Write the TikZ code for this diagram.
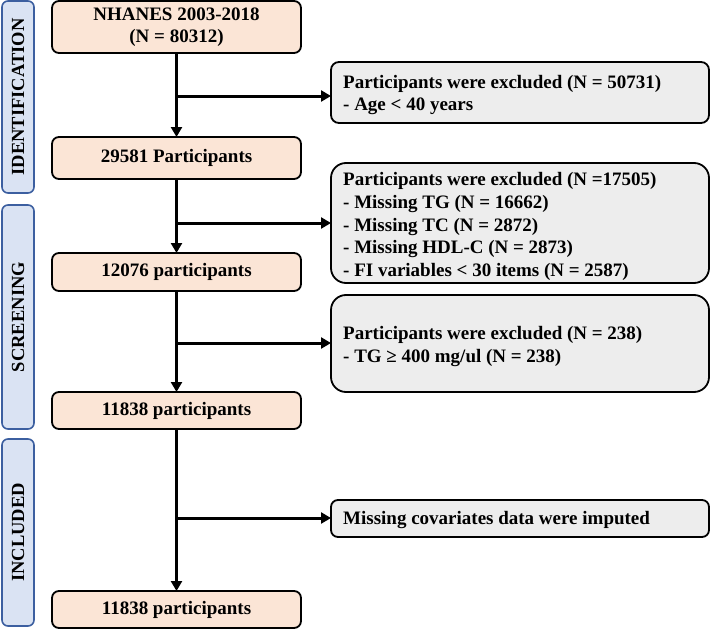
\documentclass[tikz,border=0pt]{standalone}
\usepackage{fontspec}
\setmainfont{Liberation Serif}
\usetikzlibrary{arrows.meta,calc}
\definecolor{peach}{HTML}{FBE5D6}
\definecolor{greybox}{HTML}{EDEDED}
\definecolor{bluefill}{HTML}{DAE3F3}
\definecolor{blueline}{HTML}{3C5FA0}
\begin{document}
\begin{tikzpicture}[x=1pt,y=-1pt,
  mainbox/.style={draw=black,line width=1.8pt,fill=peach,rounded corners=7pt,
    minimum width=249pt,anchor=north west,inner sep=0pt,outer sep=0pt,
    font=\fontsize{19}{22.5}\selectfont\bfseries,align=center},
  exbox/.style={draw=black,line width=1.8pt,fill=greybox,
    minimum width=378pt,anchor=north west,inner sep=0pt,outer sep=0pt},
  extext/.style={anchor=west,inner sep=0pt,align=left,
    font=\fontsize{19}{22.8}\selectfont\bfseries},
  sidebox/.style={draw=blueline,line width=1.6pt,fill=bluefill,rounded corners=6pt,
    minimum width=32pt,anchor=north west,inner sep=0pt,outer sep=0pt},
  sidelabel/.style={rotate=90,font=\fontsize{18.5}{22}\selectfont\bfseries},
  arr/.style={line width=3pt,-{Triangle[length=10pt,width=11pt]}}
]
\useasboundingbox (0,0) rectangle (710,629);

% side boxes
\node[sidebox,minimum height=192pt] (s1) at (2,1) {};
\node[sidelabel] (s1t) at (s1.center) {IDENTIFICATION};
\node[sidebox,minimum height=224pt] (s2) at (2,205) {};
\node[sidelabel] (s2t) at (s2.center) {SCREENING};
\node[sidebox,minimum height=187pt] (s3) at (2,439) {};
\node[sidelabel] (s3t) at (s3.center) {INCLUDED};

% main boxes
\node[mainbox,minimum height=52pt] (m1) at (52,1) {NHANES 2003-2018\\(N = 80312)};
\node[mainbox,minimum height=42pt] (m2) at (52,137) {29581 Participants};
\node[mainbox,minimum height=38pt] (m3) at (52,253) {12076 participants};
\node[mainbox,minimum height=37pt] (m4) at (52,392) {11838 participants};
\node[mainbox,minimum height=37pt] (m5) at (52,591) {11838 participants};

% exclusion boxes
\node[exbox,rounded corners=8pt,minimum height=61pt] (e1) at (331,62) {};
\node[extext] (e1t) at ($(e1.west)+(12,2.5)$)
  {Participants were excluded (N = 50731)\\- Age < 40 years};
\node[exbox,rounded corners=15pt,minimum height=120pt] (e2) at (331,163) {};
\node[extext] (e2t) at ($(e2.west)+(12,3.5)$)
  {Participants were excluded (N =17505)\\- Missing TG (N = 16662)\\- Missing TC (N = 2872)\\- Missing HDL-C (N = 2873)\\- FI variables < 30 items (N = 2587)};
\node[exbox,rounded corners=15pt,minimum height=97pt] (e3) at (331,295) {};
\node[extext] (e3t) at ($(e3.west)+(12,3)$)
  {Participants were excluded (N = 238)\\- TG ≥ 400 mg/ul (N = 238)};
\node[exbox,rounded corners=7pt,minimum height=37pt] (e4) at (331,500) {};
\node[extext] (e4t) at ($(e4.west)+(12,1.5)$)
  {Missing covariates data were imputed};

% vertical arrows
\draw[arr] (m1.south) -- (m2.north);
\draw[arr] (m2.south) -- (m3.north);
\draw[arr] (m3.south) -- (m4.north);
\draw[arr] (m4.south) -- (m5.north);

% branch points
\coordinate (j1) at (m1.south |- 0,96);
\coordinate (j2) at (m2.south |- 0,223);
\coordinate (j3) at (m3.south |- 0,343);
\coordinate (j4) at (m4.south |- 0,518);
\draw[arr] (j1) -- (j1 -| e1.west);
\draw[arr] (j2) -- (j2 -| e2.west);
\draw[arr] (j3) -- (j3 -| e3.west);
\draw[arr] (j4) -- (j4 -| e4.west);
\end{tikzpicture}
\end{document}
